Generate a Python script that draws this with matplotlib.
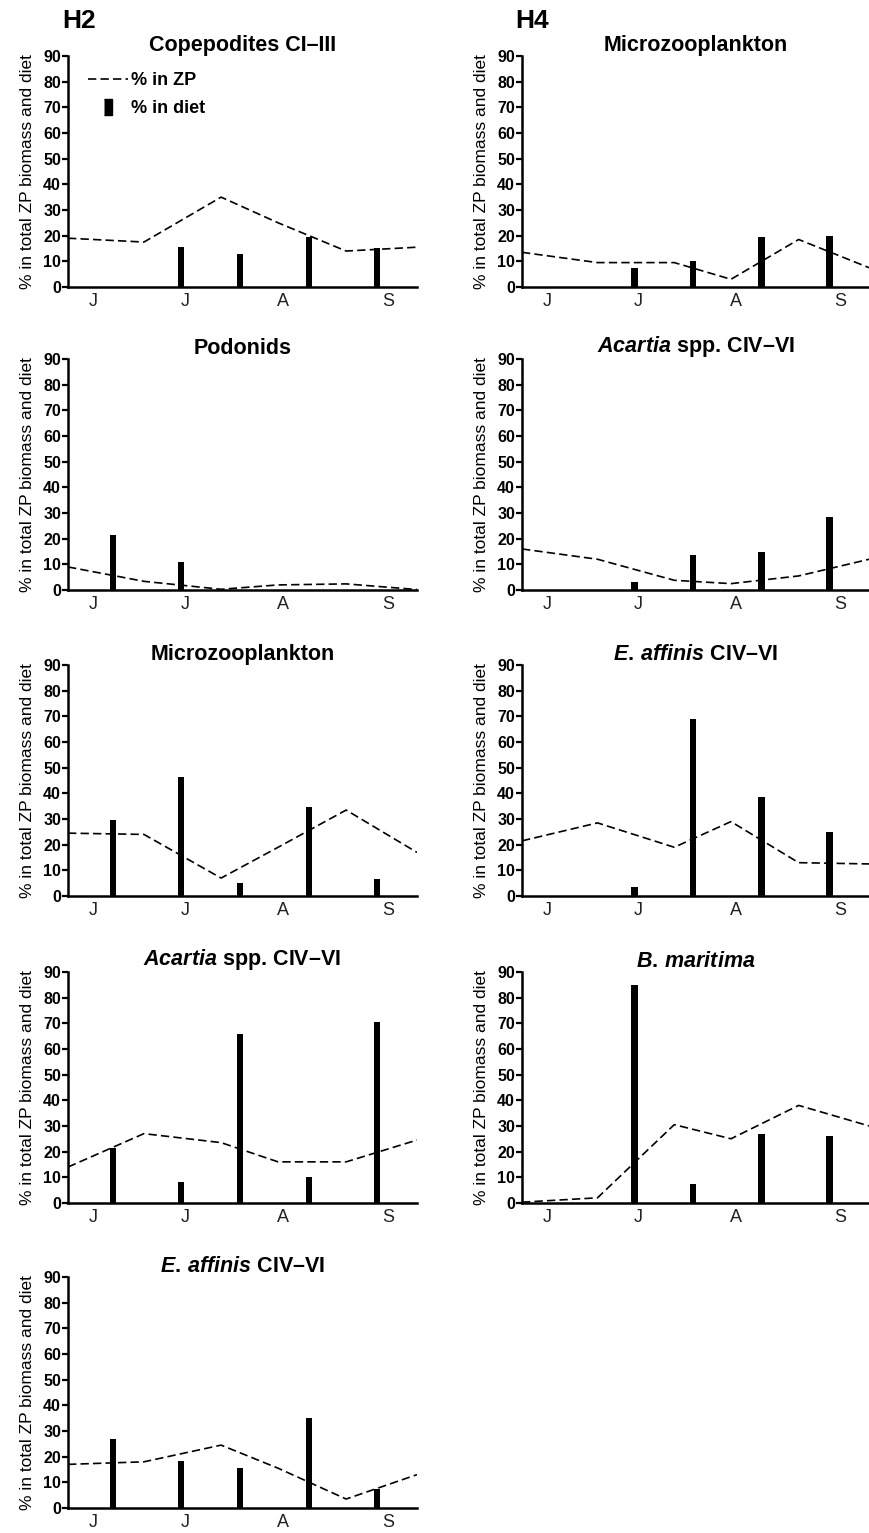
import matplotlib.pyplot as plt
from matplotlib.lines import Line2D

plt.rcParams.update({
    "font.family": "Liberation Sans",
    "mathtext.fontset": "custom",
    "mathtext.it": "Liberation Sans:italic:bold",
    "mathtext.rm": "Liberation Sans:bold",
    "mathtext.bf": "Liberation Sans:bold",
})

# sampling days (days after 24 May)
zp_days = [0, 24.1, 48.6, 66.7, 88.3, 110.8]
diet_days = [14.3, 35.9, 54.6, 76.5, 98.1]
month_pos = [7.9, 37.1, 68.3, 101.6]
month_labels = ["J", "J", "A", "S"]

ACARTIA = r"$\mathit{Acartia}$" + " spp. CIV\u2013VI"
EAFFINIS = r"$\mathit{E.\,affinis}$" + " CIV\u2013VI"
BMARITIMA = r"$\mathit{B.\,maritima}$"

# H2 panels
h2_titles = ["Copepodites CI\u2013III", "Podonids", "Microzooplankton",
             ACARTIA, EAFFINIS]
h2_zp = [[19, 17.5, 35, 25, 14, 15.5],
         [9, 3.4, 0.3, 2, 2.4, 0.2],
         [24.5, 24, 7, 19, 33.5, 17],
         [14, 27, 23.5, 16, 16, 24.5],
         [17, 18, 24.5, 15.5, 3.5, 13]]
h2_diet = [[0, 15.5, 13, 19.5, 15],
           [21.5, 11, 0, 0, 0],
           [29.5, 46.5, 5, 34.5, 6.5],
           [21.5, 8, 66, 10, 70.5],
           [27, 18.5, 15.5, 35, 7.5]]

# H4 panels
h4_titles = ["Microzooplankton", ACARTIA, EAFFINIS, BMARITIMA]
h4_zp = [[13.5, 9.5, 9.5, 3, 18.5, 7.5],
         [16, 12, 3.8, 2.5, 5.5, 12],
         [21.5, 28.5, 19, 29, 13, 12.5],
         [0.3, 2, 30.5, 25, 38, 30]]
h4_diet = [[0, 7.5, 10, 19.5, 20],
           [0, 3, 13.5, 15, 28.5],
           [0, 3.5, 69, 38.5, 25],
           [0, 85, 7.5, 27, 26]]

fig = plt.figure(figsize=(8.7, 15.33), dpi=100)
row_bottoms = [0.8128, 0.6151, 0.4155, 0.2153, 0.0163]
h = 0.1507
DASH = (0, (5, 2.5))


def panel(ax, title, zp, diet):
    ax.bar(diet_days, diet, width=2.1, color="black", zorder=2)
    ax.plot(zp_days, zp, color="black", lw=1.2, ls=DASH, zorder=3)
    ax.set_xlim(0, 110.8)
    ax.set_ylim(0, 90)
    ax.set_yticks(range(0, 91, 10))
    ax.set_xticks(month_pos)
    ax.set_xticklabels(month_labels)
    ax.tick_params(axis="x", length=0, pad=4, labelsize=13, labelcolor="#222222")
    ax.tick_params(axis="y", length=4, width=1.6, pad=1, labelsize=11.5)
    for lab in ax.get_yticklabels():
        lab.set_fontweight("bold")
    for s in ["top", "right"]:
        ax.spines[s].set_visible(False)
    for s in ["left", "bottom"]:
        ax.spines[s].set_linewidth(1.8)
    ax.set_title(title, fontsize=15.5, fontweight="bold", pad=2)
    ax.set_ylabel("% in total ZP biomass and diet", fontsize=12.5, labelpad=6)


axes_h2 = []
for i in range(5):
    ax = fig.add_axes([0.0782, row_bottoms[i], 0.4011, h])
    panel(ax, h2_titles[i], h2_zp[i], h2_diet[i])
    axes_h2.append(ax)

for i in range(4):
    ax = fig.add_axes([0.6, row_bottoms[i], 0.399, h])
    panel(ax, h4_titles[i], h4_zp[i], h4_diet[i])

# legend in first H2 panel
bar_marker = [(-0.28, -0.5), (0.28, -0.5), (0.28, 0.5), (-0.28, 0.5)]
handles = [Line2D([], [], color="black", lw=1.2, ls=DASH),
           Line2D([], [], ls="none", marker=bar_marker, markersize=11.5,
                  color="black")]
leg = axes_h2[0].legend(handles, ["% in ZP", "% in diet"], loc="upper left",
                        bbox_to_anchor=(0.057, 0.93), frameon=False,
                        borderpad=0, borderaxespad=0, handlelength=2.2,
                        handletextpad=0.2, labelspacing=0.6,
                        prop={"weight": "bold", "size": 13})

fig.text(0.071, 0.986, "H2", fontsize=19, fontweight="bold", va="center")
fig.text(0.592, 0.986, "H4", fontsize=19, fontweight="bold", va="center")

fig.savefig("out.png", dpi=100)
